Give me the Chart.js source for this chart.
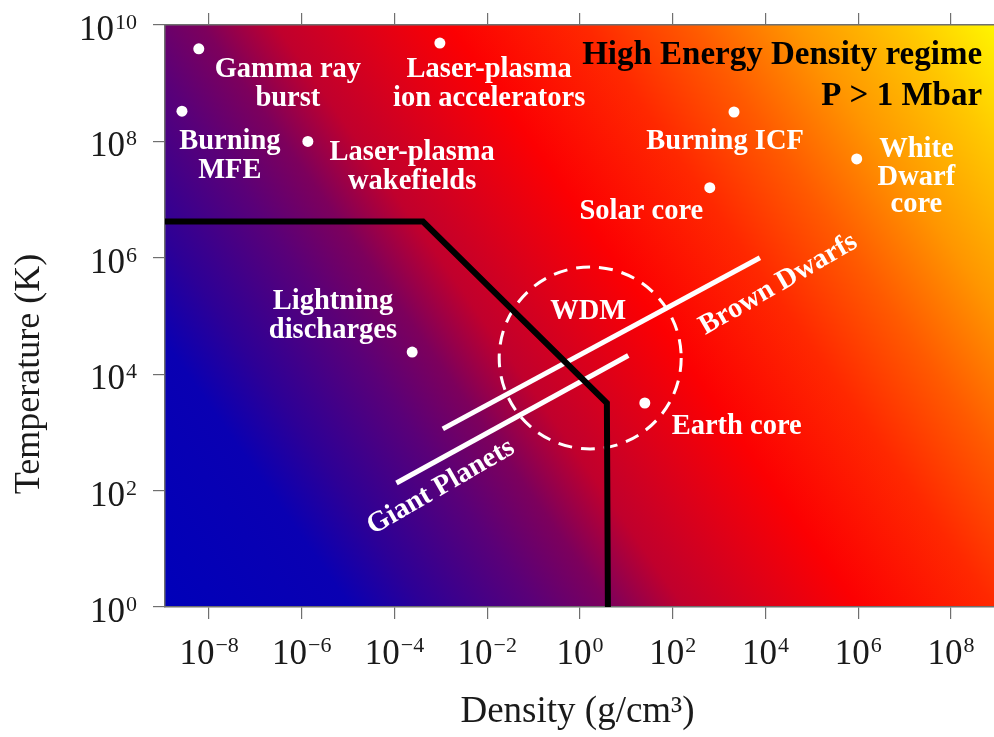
<!DOCTYPE html>
<html lang="en">
<head>
    <meta charset="UTF-8">
    <title>High Energy Density regime</title>
    <script src="https://cdn.jsdelivr.net/npm/chart.js"></script>
    <style>
        body { margin: 0; background: #fff; }
    </style>
</head>
<body>
    <canvas id="hedChart" width="994" height="737"></canvas>

    <script>
        // values: density in g/cm3, temperature in K
        const dotNames = ['Gamma ray burst', 'Burning MFE', 'Laser-plasma wakefields', 'Laser-plasma ion accelerators',
            'Burning ICF', 'Solar core', 'White Dwarf core', 'Lightning discharges', 'Earth core'];
        const dotDensity = [6.0e-9, 2.6e-9, 1.35e-6, 9.5e-4, 2.1e3, 630, 9.3e5, 2.4e-4, 25];
        const dotTemp = [3.9e9, 3.3e8, 1.0e8, 4.9e9, 3.2e8, 1.6e7, 5.0e7, 2.4e4, 3.2e3];

        const boundaryDensity = [1.1e-9, 4.1e-4, 3.8, 4.0];
        const boundaryTemp = [4.2e6, 4.2e6, 3.2e3, 1];

        const brownDwarfDensity = [1.1e-3, 7.6e3];
        const brownDwarfTemp = [1.15e3, 1.0e6];
        const giantPlanetDensity = [1.1e-4, 11];
        const giantPlanetTemp = [135, 2.1e4];

        const wdmDensity = [1.66];
        const wdmTemp = [1.9e4];

        const xTickExps = [-8, -6, -4, -2, 0, 2, 4, 6, 8];
        const yTickExps = [0, 2, 4, 6, 8, 10];

        // text labels and where they sit (same units as the data)
        const labelText = [
            ['Gamma ray', 'burst'], ['Burning', 'MFE'], ['Laser-plasma', 'wakefields'],
            ['Laser-plasma', 'ion accelerators'], ['Burning ICF'], ['Solar core'], ['White', 'Dwarf', 'core'],
            ['Lightning', 'discharges'], ['WDM'], ['Earth core'], ['Brown Dwarfs'], ['Giant Planets'],
            ['High Energy Density regime'], ['P > 1 Mbar']
        ];
        const labelDensity = [5.0e-7, 2.8e-8, 2.4e-4, 1.1e-2, 1.35e3, 21, 1.8e7, 4.7e-6, 1.5, 2.4e3, 1.9e4, 1.0e-3, 4.7e8, 4.7e8];
        const labelTemp = [1.7e9, 9.8e7, 6.3e7, 1.7e9, 9.8e7, 6.1e6, 7.1e7, 1.74e5, 1.17e5, 1.24e3, 3.5e5, 115, 3.0e9, 5.8e8];

        const xMin = 1.12e-9, xMax = 8.5e8;
        const yMin = 1, yMax = 1e10;

        const serif = '"Liberation Serif", "DejaVu Serif", serif';
        const toPoints = (xs, ys) => xs.map((x, i) => ({ x: x, y: ys[i] }));

        const evenTicks = exps => scale => {
            scale.ticks = exps.map(e => ({ value: Math.pow(10, e) }));
        };

        const gridStyle = {
            drawOnChartArea: false,
            tickLength: 12,
            color: '#6f6f6f',
            lineWidth: 1.2
        };
        const borderStyle = { color: '#6f6f6f', width: 1.5 };

        // background colour ramp, bottom-left (blue) to top-right (yellow)
        const rampStops = [
            [0.00, 'rgb(0,0,185)'], [0.15, 'rgb(10,0,178)'], [0.21, 'rgb(45,0,150)'],
            [0.30, 'rgb(90,0,120)'], [0.36, 'rgb(125,0,92)'], [0.42, 'rgb(192,0,45)'],
            [0.49, 'rgb(222,0,24)'], [0.56, 'rgb(252,0,2)'], [0.67, 'rgb(255,40,0)'],
            [0.755, 'rgb(255,90,0)'], [0.84, 'rgb(255,150,0)'], [0.93, 'rgb(255,200,0)'],
            [1.00, 'rgb(255,245,0)']
        ];

        const paintPlugin = {
            id: 'paint',
            beforeDraw(chart) {
                const { ctx, chartArea: a } = chart;
                const g = ctx.createLinearGradient(a.left, a.bottom, a.right, a.top);
                rampStops.forEach(s => g.addColorStop(s[0], s[1]));
                ctx.save();
                ctx.fillStyle = g;
                ctx.fillRect(a.left, a.top, a.right - a.left, a.bottom - a.top);
                ctx.restore();
            },
            beforeDatasetDraw(chart, args) {
                if (chart.data.datasets[args.index].dashed) chart.ctx.setLineDash([14, 9]);
            },
            afterDatasetDraw(chart, args) {
                if (chart.data.datasets[args.index].dashed) chart.ctx.setLineDash([]);
            },
            afterDatasetsDraw(chart) {
                const ctx = chart.ctx;
                const xs = chart.scales.x, ys = chart.scales.y;
                ctx.save();
                ctx.textBaseline = 'middle';
                labelText.forEach((lines, i) => {
                    const px = xs.getPixelForValue(labelDensity[i]);
                    const py = ys.getPixelForValue(labelTemp[i]);
                    const black = i >= 12;
                    const rotated = i === 10 || i === 11;
                    const lh = lines.length === 3 ? 27.5 : 29;
                    ctx.save();
                    ctx.translate(px, py);
                    if (rotated) ctx.rotate(-30 * Math.PI / 180);
                    ctx.fillStyle = black ? '#000' : '#fff';
                    ctx.font = 'bold ' + (black ? 33 : 28.5) + 'px ' + serif;
                    ctx.textAlign = black ? 'right' : 'center';
                    lines.forEach((t, k) => ctx.fillText(t, 0, k * lh));
                    ctx.restore();
                });
                ctx.restore();
            },
            afterDraw(chart) {
                const ctx = chart.ctx;
                const a = chart.chartArea;
                const xs = chart.scales.x, ys = chart.scales.y;
                const sup = e => (e < 0 ? '\u2212' : '') + Math.abs(e);
                const baseFont = '35px ' + serif, supFont = '22px ' + serif;
                ctx.save();
                ctx.fillStyle = '#1a1a1a';
                ctx.textBaseline = 'alphabetic';
                ctx.textAlign = 'left';
                xTickExps.forEach(e => {
                    const px = xs.getPixelForValue(Math.pow(10, e));
                    ctx.font = baseFont;
                    const wb = ctx.measureText('10').width;
                    ctx.font = supFont;
                    const we = ctx.measureText(sup(e)).width;
                    const x0 = px - (wb + we + 1) / 2;
                    ctx.font = baseFont;
                    ctx.fillText('10', x0, a.bottom + 57);
                    ctx.font = supFont;
                    ctx.fillText(sup(e), x0 + wb + 1, a.bottom + 45);
                });
                yTickExps.forEach(e => {
                    const py = ys.getPixelForValue(Math.pow(10, e));
                    const right = a.left - 28;
                    ctx.font = supFont;
                    const we = ctx.measureText(sup(e)).width;
                    ctx.fillText(sup(e), right - we, py + 4);
                    ctx.font = baseFont;
                    const wb = ctx.measureText('10').width;
                    ctx.fillText('10', right - we - 1 - wb, py + 15);
                });
                // axis titles
                ctx.textAlign = 'center';
                ctx.textBaseline = 'middle';
                ctx.font = '37px ' + serif;
                ctx.fillText('Density (g/cm\u00b3)', (a.left + a.right) / 2 - 2, 712);
                ctx.font = '36px ' + serif;
                ctx.translate(30, (a.top + a.bottom) / 2 + 58);
                ctx.rotate(-Math.PI / 2);
                ctx.fillText('Temperature (K)', 0, 0);
                ctx.restore();
            }
        };

        const ctx = document.getElementById('hedChart').getContext('2d');
        new Chart(ctx, {
            type: 'scatter',
            data: {
                datasets: [
                    {
                        label: 'HED boundary',
                        data: toPoints(boundaryDensity, boundaryTemp),
                        showLine: true,
                        borderColor: '#000',
                        borderWidth: 6,
                        pointRadius: 0,
                        borderJoinStyle: 'miter'
                    },
                    {
                        label: 'WDM',
                        data: toPoints(wdmDensity, wdmTemp),
                        dashed: true,
                        pointRadius: 91,
                        borderWidth: 3,
                        borderColor: '#fff',
                        backgroundColor: 'rgba(0,0,0,0)'
                    },
                    {
                        label: 'Brown Dwarfs',
                        data: toPoints(brownDwarfDensity, brownDwarfTemp),
                        showLine: true,
                        borderColor: '#fff',
                        borderWidth: 5,
                        pointRadius: 0
                    },
                    {
                        label: 'Giant Planets',
                        data: toPoints(giantPlanetDensity, giantPlanetTemp),
                        showLine: true,
                        borderColor: '#fff',
                        borderWidth: 5,
                        pointRadius: 0
                    },
                    {
                        label: 'Regimes',
                        data: toPoints(dotDensity, dotTemp),
                        pointRadius: 5.5,
                        borderWidth: 0,
                        backgroundColor: '#fff'
                    }
                ]
            },
            options: {
                responsive: false,
                animation: false,
                events: [],
                layout: { padding: 0, autoPadding: false },
                plugins: {
                    legend: { display: false },
                    tooltip: { enabled: false }
                },
                scales: {
                    x: {
                        type: 'logarithmic',
                        position: 'bottom',
                        min: xMin,
                        max: xMax,
                        afterBuildTicks: evenTicks(xTickExps),
                        afterFit: s => { s.height = 130; },
                        ticks: { display: false },
                        grid: gridStyle,
                        border: borderStyle
                    },
                    xTop: {
                        type: 'logarithmic',
                        position: 'top',
                        min: xMin,
                        max: xMax,
                        afterBuildTicks: evenTicks(xTickExps),
                        afterFit: s => { s.height = 25; },
                        ticks: { display: false },
                        grid: gridStyle,
                        border: borderStyle
                    },
                    y: {
                        type: 'logarithmic',
                        position: 'left',
                        min: yMin,
                        max: yMax,
                        afterBuildTicks: evenTicks(yTickExps),
                        afterFit: s => { s.width = 165; },
                        ticks: { display: false },
                        grid: gridStyle,
                        border: borderStyle
                    }
                }
            },
            plugins: [paintPlugin]
        });
    </script>
</body>
</html>
